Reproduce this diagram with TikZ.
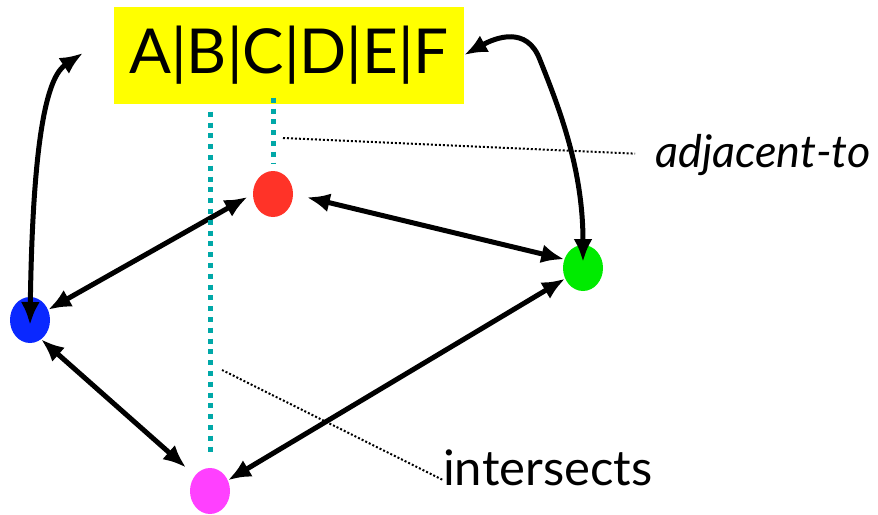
\documentclass[tikz,border=0pt]{standalone}
\usepackage{fontspec}
\setmainfont{Lato}
\usetikzlibrary{shapes.geometric,arrows.meta,positioning}
\definecolor{yel}{RGB}{255,255,0}
\definecolor{redn}{RGB}{255,51,40}
\definecolor{greenn}{RGB}{0,235,0}
\definecolor{bluen}{RGB}{10,40,255}
\definecolor{magn}{RGB}{255,64,255}
\definecolor{dotteal}{RGB}{0,168,168}

\begin{document}
\begin{tikzpicture}[x=1pt, y=-1pt,
	dot/.style={ellipse, inner sep=0pt, minimum width=40pt, minimum height=46pt},
	link/.style={{Latex[length=23pt,width=19pt]}-{Latex[length=23pt,width=19pt]}, line width=5pt},
	tealdots/.style={dotteal, line width=5pt, dash pattern=on 5pt off 5.8pt},
	thindots/.style={line width=2pt, dash pattern=on 2pt off 2pt},
	lbl/.style={inner sep=0pt, anchor=base west}]
				\useasboundingbox (0,0) rectangle (878,514);
				\node[fill=yel, minimum width=350pt, minimum height=97pt, inner sep=0pt, font=\fontsize{62}{62}\selectfont] (cols) at (289,55) {A|B|C|D|E|F};
				\node[dot, fill=redn] (red) at (273,194) {};
				\node[dot, fill=greenn] (green) at (583,268) {};
				\node[dot, fill=bluen] (blue) at (30,320) {};
				\node[dot, fill=magn] (mag) at (210,491) {};
				\node[lbl, font=\fontsize{45}{45}\selectfont\itshape] (adj) at (655,167) {adjacent-to};
				\node[lbl, font=\fontsize{49}{49}\selectfont] (inter) at (443,485) {intersects};
				\coordinate (tlend) at (83,53);
				\coordinate (adjpt) at (283,138);
				\coordinate (interpt) at (222,370);
				\draw[link, shorten >=6pt] (blue) -- (red.west);
				\draw[link, shorten <=14pt] (red.east) -- (green.155);
				\draw[link, shorten >=12pt] (blue.-60) -- (mag.134);
				\draw[link] (mag) -- (green);
				\draw[link] (tlend) .. controls (50,75) and (33,120) .. ([yshift=-5pt]blue.center);
				\draw[link] (cols.east) .. controls (495,38) and (527,25) .. (540,60) .. controls (560,110) and (583,170) .. ([yshift=6pt]green.center);
				\draw[tealdots, shorten <=-6pt, shorten >=8pt] (cols.south -| red.north) -- (red.north);
				\draw[tealdots, shorten <=8pt, shorten >=12pt] (cols.south -| mag.north) -- (mag.north);
				\draw[thindots, shorten >=20pt] (adjpt) -- (adj.west);
				\draw[thindots] (interpt) -- ([yshift=5pt]inter.base west);
			\end{tikzpicture}
\end{document}
